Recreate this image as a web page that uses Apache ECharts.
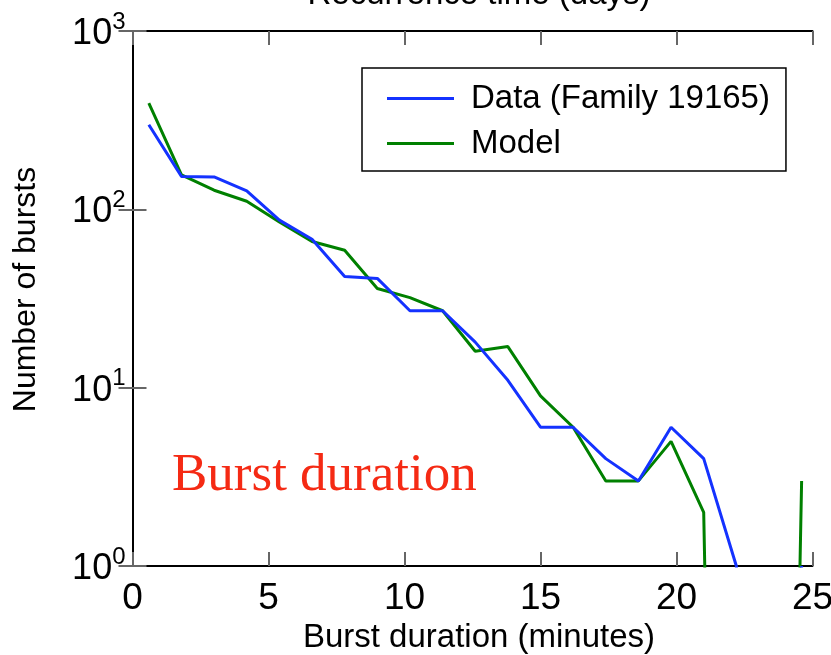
<!DOCTYPE html>
<html>
<head>
<meta charset="utf-8">
<script src="https://cdn.jsdelivr.net/npm/echarts@6/dist/echarts.min.js"></script>
<style>html,body{margin:0;padding:0;background:#fff;}#c{width:831px;height:655px;}</style>
</head>
<body>
<div id="c"></div>
<script>
// Burst duration bin centres (minutes)
const durations = [0.6, 1.8, 3.0, 4.2, 5.4, 6.6, 7.8, 9.0, 10.2, 11.4, 12.6, 13.8, 15.0, 16.2, 17.4, 18.6, 19.8, 21.0, 22.2, 23.4, 24.6];
// Number of bursts: observed data (Family 19165)
const dataCounts = [298, 153, 152, 127, 87, 68, 42, 41, 27, 27, 18, 11, 6, 6, 4, 3, 6, 4, 1, 0, 1];
// Number of bursts: model
const modelCounts = [394, 156, 128, 111, 85, 66, 59, 36, 32, 27, 16, 17, 9, 6, 3, 3, 5, 2, 0, 0, 3];
const xTicks = [0, 5, 10, 15, 20, 25];
const yTickExponents = [0, 1, 2, 3];
const seriesNames = ['Data (Family 19165)', 'Model'];
const labelText = 'Burst duration';
const xTitle = 'Burst duration (minutes)';
const yTitle = 'Number of bursts';
const topTitle = 'Recurrence time (days)';

// zero counts fall off the bottom of the log axis (drawn as a drop, clipped)
const FLOOR = 1e-9;
const pairs = (xs, ys) => xs.map((x, i) => [x, ys[i] > 0 ? ys[i] : FLOOR]);

const chart = echarts.init(document.getElementById('c'), null, {renderer: 'canvas'});
const FONT = '"Liberation Sans", Arial, Helvetica, sans-serif';
const axisLine = {show: true, lineStyle: {color: '#000', width: 2}};
const tick = {show: true, inside: true, length: 14, lineStyle: {color: '#666', width: 2}};

chart.setOption({
  animation: false,
  backgroundColor: '#fff',
  grid: {left: 132.5, right: 18.5, top: 31, bottom: 89, containLabel: false, outerBoundsMode: 'none'},
  xAxis: [{
    type: 'value', min: xTicks[0], max: xTicks[xTicks.length - 1], interval: 5,
    axisLine: axisLine, axisTick: tick, splitLine: {show: false},
    axisLabel: {color: '#000', fontFamily: FONT, fontSize: 37, margin: 14},
    name: xTitle, nameLocation: 'middle', nameGap: 53,
    nameTextStyle: {color: '#000', fontFamily: FONT, fontSize: 33, padding: [0, 0, 0, 13]}
  }, {
    type: 'value', position: 'top', min: xTicks[0], max: xTicks[xTicks.length - 1], interval: 5,
    axisLine: axisLine, axisTick: tick, splitLine: {show: false}, axisLabel: {show: false},
    name: topTitle, nameLocation: 'middle', nameGap: 20,
    nameTextStyle: {color: '#000', fontFamily: FONT, fontSize: 33, padding: [0, 0, 0, 13]}
  }],
  yAxis: [{
    type: 'log', logBase: 10, min: Math.pow(10, yTickExponents[0]), max: Math.pow(10, yTickExponents[yTickExponents.length - 1]),
    axisLine: axisLine, axisTick: tick, minorTick: {show: false}, splitLine: {show: false},
    axisLabel: {
      margin: 7, fontFamily: FONT, color: '#000',
      formatter: v => '{b|10}{s|' + Math.round(Math.log10(v)) + '}',
      rich: {
        b: {fontSize: 36, fontFamily: FONT, color: '#000', verticalAlign: 'bottom'},
        s: {fontSize: 24, fontFamily: FONT, color: '#000', verticalAlign: 'bottom', padding: [0, 0, 18, 0]}
      }
    },
    name: yTitle, nameLocation: 'middle', nameGap: 90,
    nameTextStyle: {color: '#000', fontFamily: FONT, fontSize: 32, padding: [0, 0, 0, 18]}
  }, {
    type: 'log', logBase: 10, position: 'right', min: 1, max: 1000,
    axisLine: axisLine, axisTick: tick, minorTick: {show: false}, splitLine: {show: false}, axisLabel: {show: false}
  }],
  legend: {
    orient: 'vertical', left: 362, top: 68, icon: 'rect',
    backgroundColor: '#fff', borderColor: '#000', borderWidth: 1.5, borderRadius: 0,
    padding: [14, 16, 11, 25], itemGap: 12, itemWidth: 67, itemHeight: 3,
    textStyle: {color: '#000', fontFamily: FONT, fontSize: 33, lineHeight: 33, padding: [0, 0, 0, 12]},
    data: seriesNames
  },
  series: [{
    name: seriesNames[0], type: 'line', data: pairs(durations, dataCounts),
    symbol: 'none', clip: true, lineStyle: {color: '#1432ff', width: 3}, itemStyle: {color: '#1432ff'}, z: 3
  }, {
    name: seriesNames[1], type: 'line', data: pairs(durations, modelCounts),
    symbol: 'none', clip: true, lineStyle: {color: '#008000', width: 3}, itemStyle: {color: '#008000'}, z: 2
  }],
  graphic: [{
    type: 'text', left: 172, top: 450,
    style: {text: labelText, fill: '#f52a14', font: '53px "Liberation Serif", "Times New Roman", serif'}
  }]
});
</script>
</body>
</html>
